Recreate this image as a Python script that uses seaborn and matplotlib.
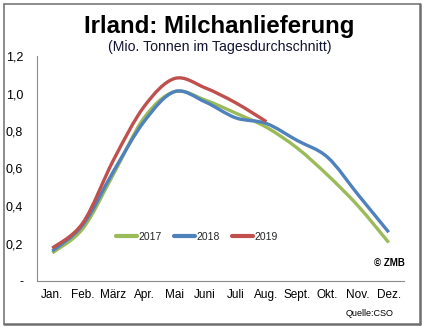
import numpy as np
import pandas as pd
import matplotlib
matplotlib.use("Agg")
import matplotlib.pyplot as plt
import seaborn as sns
from matplotlib.path import Path
from matplotlib.patches import PathPatch
from matplotlib.lines import Line2D

# Monthly milk deliveries, Ireland (million tonnes per day, average)
months = ["Jan.", "Feb.", "März", "Apr.", "Mai", "Juni", "Juli", "Aug.",
          "Sept.", "Okt.", "Nov.", "Dez."]
years = ["2017", "2018", "2019"]
y2017 = [0.15, 0.28, 0.57, 0.87, 1.01, 0.965, 0.895, 0.82, 0.71, 0.565, 0.40, 0.205]
y2018 = [0.16, 0.30, 0.585, 0.85, 1.01, 0.955, 0.87, 0.84, 0.75, 0.66, 0.46, 0.26]
y2019 = [0.175, 0.31, 0.645, 0.93, 1.08, 1.03, 0.95, 0.85]
ytick_vals = [0.0, 0.2, 0.4, 0.6, 0.8, 1.0, 1.2]
ytick_labels = ["-", "0,2", "0,4", "0,6", "0,8", "1,0", "1,2"]
colors = {"2017": "#9BBB59", "2018": "#4F81BD", "2019": "#C0504D"}

W, H = 425, 331
sns.set_style("white")
plt.rcParams["font.family"] = ["Liberation Sans", "DejaVu Sans"]

frames = []
for yr, vals in zip(years, [y2017, y2018, y2019]):
    frames.append(pd.DataFrame({"pos": np.arange(len(vals)), "wert": vals, "Jahr": yr}))
df = pd.concat(frames, ignore_index=True)

fig = plt.figure(figsize=(W / 100, H / 100), dpi=100)
ax = fig.add_axes([37 / W, 50 / H, 367 / W, 225 / H])

sns.lineplot(data=df, x="pos", y="wert", hue="Jahr", palette=colors,
             linewidth=2.4, legend=False, ax=ax, sort=True)


def smooth_path(xy):
    """Catmull-Rom style cubic Bezier through the points (spreadsheet-like smoothing)."""
    pts = np.asarray(xy, dtype=float)
    n = len(pts)
    verts = [pts[0]]
    codes = [Path.MOVETO]
    for i in range(n - 1):
        p0 = pts[i - 1] if i > 0 else pts[i]
        p1 = pts[i]
        p2 = pts[i + 1]
        p3 = pts[i + 2] if i + 2 < n else pts[i + 1]
        c1 = p1 + (p2 - p0) / 6.0
        c2 = p2 - (p3 - p1) / 6.0
        verts += [c1, c2, p2]
        codes += [Path.CURVE4] * 3
    return Path(verts, codes)


for line in list(ax.lines):
    col = line.get_color()
    patch = PathPatch(smooth_path(line.get_xydata()), fill=False, edgecolor=col,
                      lw=2.4, capstyle="butt", joinstyle="round", zorder=3)
    ax.add_patch(patch)
    line.remove()

ax.set_xlim(-0.5, 11.5)
ax.set_ylim(0, 1.2)
ax.set_xlabel("")
ax.set_ylabel("")

ax.set_xticks(range(12))
ax.set_xticklabels(months)
ax.set_xticks(np.arange(-0.5, 12, 1.0), minor=True)
ax.tick_params(axis="x", which="major", length=0, pad=6, labelsize=8.5, labelcolor="black")
ax.tick_params(axis="x", which="minor", length=4, width=0.8, color="#8c8c8c", direction="out")
ax.set_yticks(ytick_vals)
ax.set_yticklabels(ytick_labels)
ax.tick_params(axis="y", length=4, width=0.8, color="#8c8c8c", direction="out",
               pad=6, labelsize=9, labelcolor="black")

for side in ["top", "right"]:
    ax.spines[side].set_visible(False)
for side in ["left", "bottom"]:
    ax.spines[side].set_color("#8c8c8c")
    ax.spines[side].set_linewidth(0.8)
ax.grid(False)

handles = [Line2D([0], [0], color=colors[y], lw=3, solid_capstyle="round") for y in years]
fig.legend(handles, years, loc="center", bbox_to_anchor=(197 / W, 1 - 237 / H),
           ncol=3, frameon=False, fontsize=7.5, handlelength=2.0,
           handletextpad=0.15, columnspacing=1.2, borderpad=0)

fig.text(219 / W, 1 - 27 / H, "Irland: Milchanlieferung", ha="center", va="center",
         fontsize=17.3, fontweight="bold", color="black")
fig.text(220 / W, 1 - 47 / H, "(Mio. Tonnen im Tagesdurchschnitt)", ha="center",
         va="center", fontsize=10.2, color="#141433")
fig.text(389 / W, 1 - 263 / H, "© ZMB", ha="center", va="center",
         fontsize=7, fontweight="bold", color="black")
fig.text(393 / W, 1 - 313 / H, "Quelle:CSO", ha="right", va="center",
         fontsize=6.5, color="black")

# Outer frame with a slightly heavier right/bottom edge
fc = "#6e6e6e"
L, R, T, B = 3.5 / W, 420 / W, 1 - 3.5 / H, 1 - 324 / H
fig.add_artist(Line2D([L, L], [B, T], transform=fig.transFigure, color=fc, lw=1.1))
fig.add_artist(Line2D([L, R], [T, T], transform=fig.transFigure, color=fc, lw=1.1))
fig.add_artist(Line2D([R, R], [B, T], transform=fig.transFigure, color=fc, lw=1.8))
fig.add_artist(Line2D([L, R], [B, B], transform=fig.transFigure, color=fc, lw=1.8))

fig.savefig("out.png", dpi=100, facecolor="white")
